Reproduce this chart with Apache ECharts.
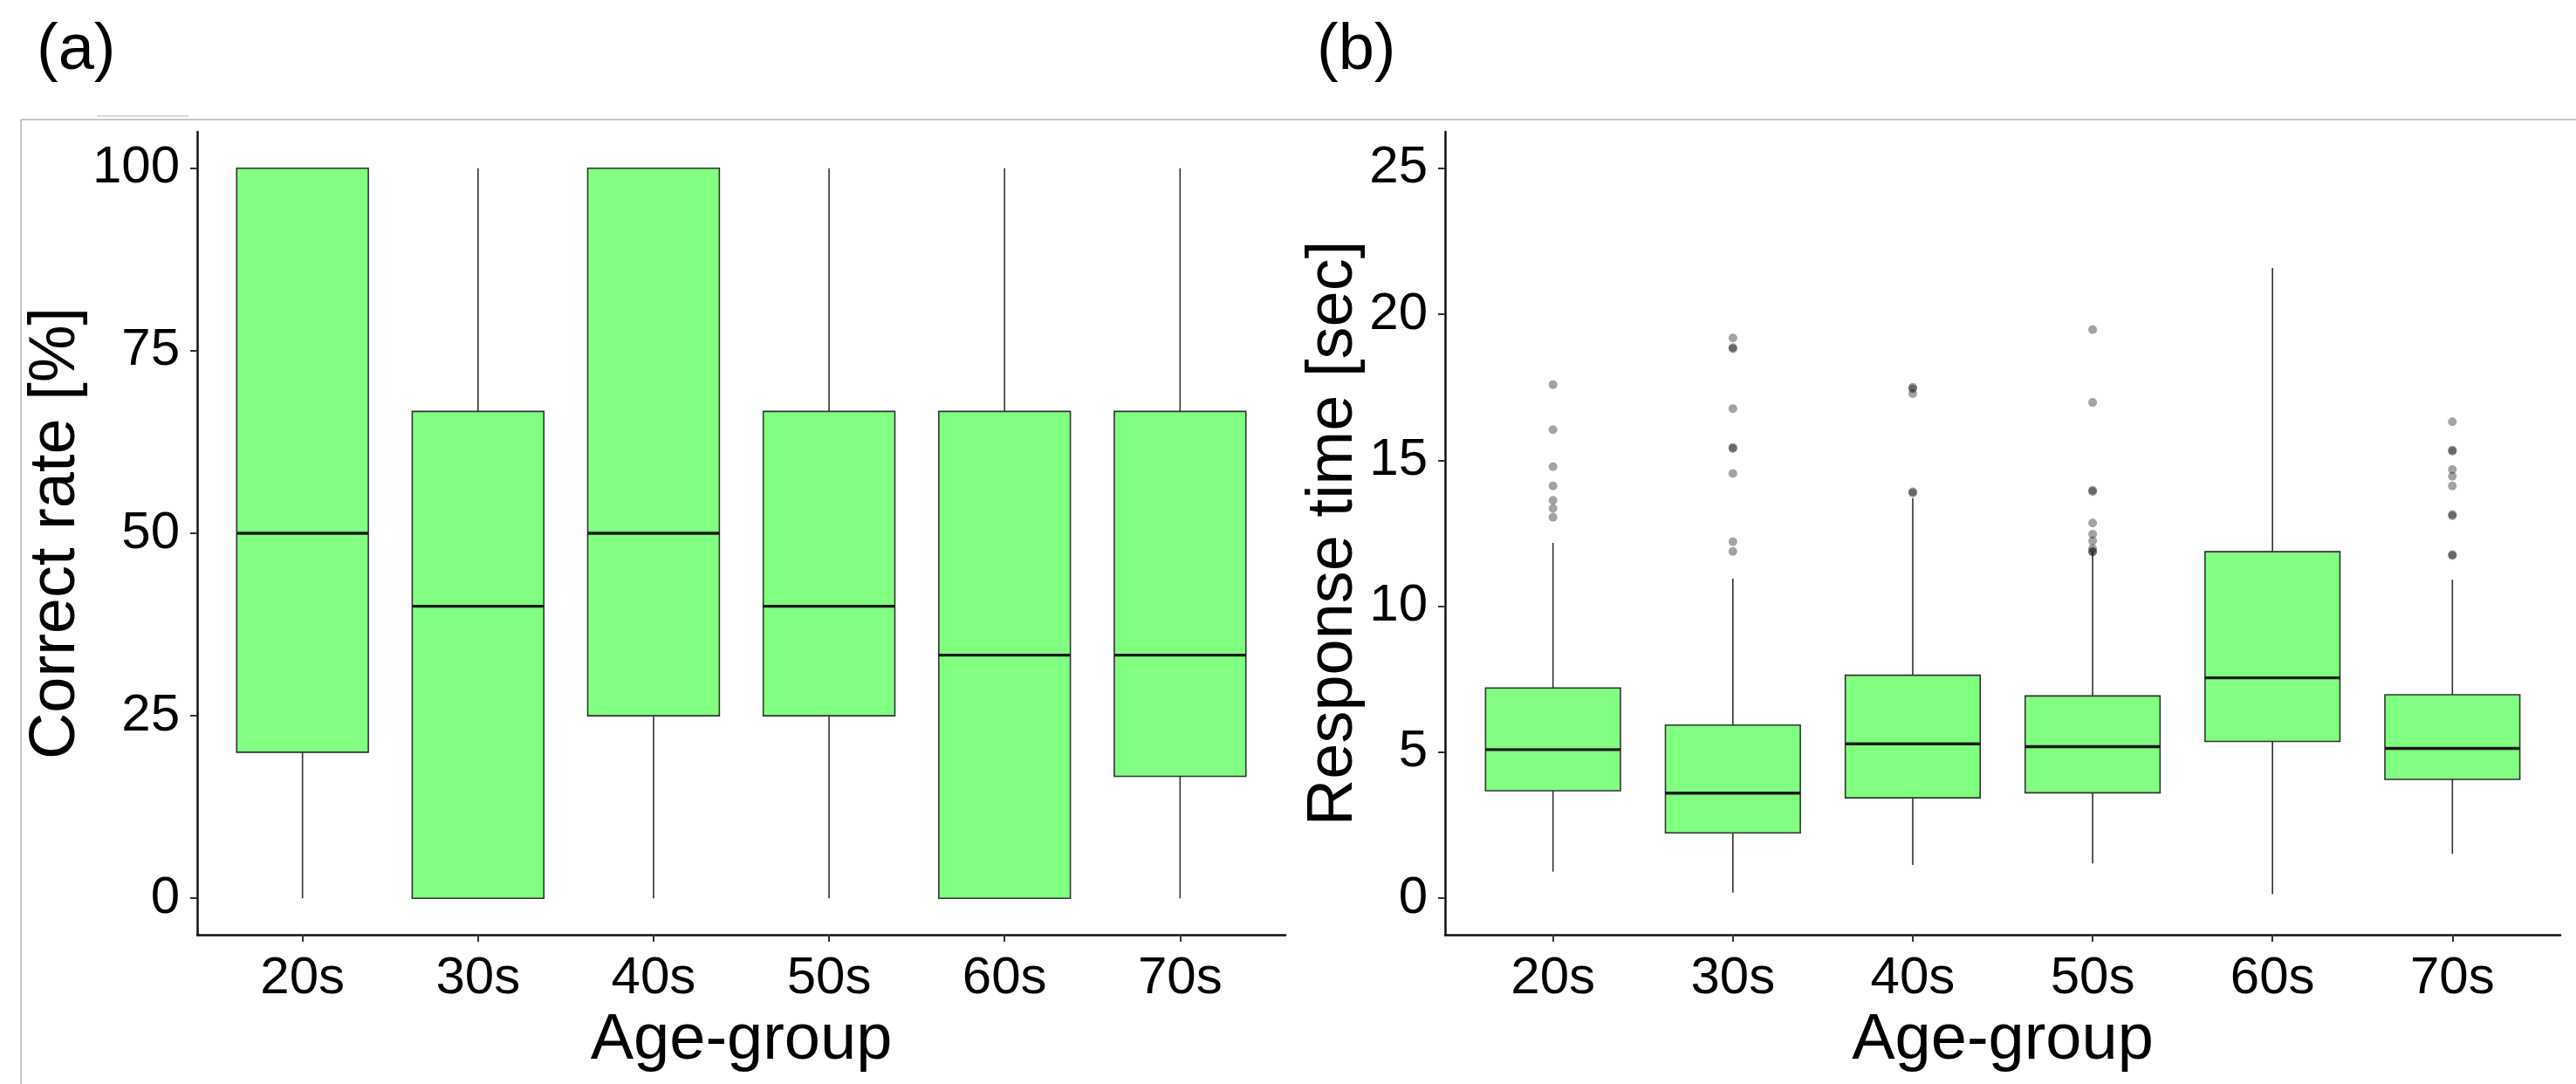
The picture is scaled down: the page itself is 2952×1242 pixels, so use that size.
<!DOCTYPE html>
<html><head><meta charset="utf-8">
<script src="https://cdn.jsdelivr.net/npm/echarts@6/dist/echarts.min.js"></script>
<style>html,body{margin:0;padding:0;background:#fff}#c{width:2952px;height:1242px}</style>
</head><body><div id="c"></div>
<script>
const categories = ['20s', '30s', '40s', '50s', '60s', '70s'];
const correctRateTicks = [0, 25, 50, 75, 100];
const responseTimeTicks = [0, 5, 10, 15, 20, 25];
// [min(whisker), Q1, median, Q3, max(whisker)]
const correctRateBoxes = [
  [0, 20, 50, 100, 100],
  [0, 0, 40, 66.7, 100],
  [0, 25, 50, 100, 100],
  [0, 25, 40, 66.7, 100],
  [0, 0, 33.3, 66.7, 100],
  [0, 16.7, 33.3, 66.7, 100]
];
const responseTimeBoxes = [
  [0.91, 3.68, 5.09, 7.20, 12.17],
  [0.19, 2.24, 3.60, 5.93, 10.95],
  [1.14, 3.44, 5.29, 7.64, 13.70],
  [1.19, 3.61, 5.19, 6.93, 11.87],
  [0.14, 5.37, 7.55, 11.87, 21.59],
  [1.52, 4.07, 5.13, 6.97, 10.91]
];
const responseTimeOutliers = [
  [17.59, 16.05, 14.78, 14.12, 13.63, 13.35, 13.05],
  [19.19, 18.86, 18.82, 16.77, 15.44, 15.40, 14.55, 12.21, 11.88],
  [17.50, 17.45, 17.28, 13.92, 13.88],
  [19.47, 16.98, 13.97, 13.93, 12.85, 12.47, 12.24, 11.98, 11.88, 11.86],
  [],
  [16.32, 15.35, 15.31, 14.68, 14.45, 14.12, 13.14, 13.10, 11.77, 11.74]
];

const FONT = 'Liberation Sans, Arial, Helvetica, sans-serif';
const catPos = categories.map((c, i) => i + 1);

function boxRender(params, api) {
  const x = api.value(0);
  const lo = api.coord([x, api.value(1)]);
  const q1 = api.coord([x, api.value(2)]);
  const med = api.coord([x, api.value(3)]);
  const q3 = api.coord([x, api.value(4)]);
  const hi = api.coord([x, api.value(5)]);
  const w = api.size([0.75, 0])[0];
  const h = w / 2;
  const ls = { stroke: '#333333', lineWidth: 1.6 };
  return {
    type: 'group',
    children: [
      { type: 'line', shape: { x1: lo[0], y1: lo[1], x2: q1[0], y2: q1[1] }, style: ls },
      { type: 'line', shape: { x1: q3[0], y1: q3[1], x2: hi[0], y2: hi[1] }, style: ls },
      { type: 'rect', shape: { x: q3[0] - h, y: q3[1], width: w, height: q1[1] - q3[1] },
        style: { fill: '#80FF80', stroke: '#333333', lineWidth: 1.6 } },
      { type: 'line', shape: { x1: med[0] - h, y1: med[1], x2: med[0] + h, y2: med[1] },
        style: { stroke: '#1a1a1a', lineWidth: 3.4 } }
    ]
  };
}

function xAxis(gi) {
  return {
    type: 'value', gridIndex: gi, min: 0.4, max: 6.6,
    splitLine: { show: false },
    axisLine: { show: true, onZero: false, lineStyle: { color: '#111', width: 2.5 } },
    axisTick: { show: true, customValues: catPos, length: 8, lineStyle: { color: '#333', width: 2 } },
    axisLabel: { customValues: catPos, formatter: v => categories[Math.round(v) - 1], fontSize: 60,
      color: '#000', margin: 20, fontFamily: FONT },
    name: 'Age-group', nameLocation: 'middle', nameGap: 66,
    nameTextStyle: { fontSize: 74, color: '#000', fontFamily: FONT }
  };
}
function yAxis(gi, min, max, ticks, name, gap) {
  return {
    type: 'value', gridIndex: gi, min: min, max: max,
    splitLine: { show: false },
    axisLine: { show: true, onZero: false, lineStyle: { color: '#111', width: 2.5 } },
    axisTick: { show: true, customValues: ticks, length: 8, lineStyle: { color: '#333', width: 2 } },
    axisLabel: { customValues: ticks, fontSize: 60, color: '#000', margin: 20, fontFamily: FONT },
    name: name, nameLocation: 'middle', nameGap: gap,
    nameTextStyle: { fontSize: 74, color: '#000', fontFamily: FONT }
  };
}

const outlierData = [];
responseTimeOutliers.forEach((arr, i) => arr.forEach(v => outlierData.push([i + 1, v])));

const chart = echarts.init(document.getElementById('c'));
chart.setOption({
  animation: false,
  backgroundColor: '#fff',
  grid: [
    { left: 226, top: 151, width: 1247, height: 920 },
    { left: 1656, top: 151, width: 1278, height: 920 }
  ],
  xAxis: [xAxis(0), xAxis(1)],
  yAxis: [
    yAxis(0, -5, 105, correctRateTicks, 'Correct rate [%]', 112),
    yAxis(1, -1.25, 26.25, responseTimeTicks, 'Response time [sec]', 88)
  ],
  series: [
    { type: 'custom', xAxisIndex: 0, yAxisIndex: 0, renderItem: boxRender,
      encode: { x: 0, y: [1, 2, 3, 4, 5] },
      data: correctRateBoxes.map((b, i) => [i + 1].concat(b)) },
    { type: 'custom', xAxisIndex: 1, yAxisIndex: 1, renderItem: boxRender,
      encode: { x: 0, y: [1, 2, 3, 4, 5] },
      data: responseTimeBoxes.map((b, i) => [i + 1].concat(b)) },
    { type: 'scatter', xAxisIndex: 1, yAxisIndex: 1, symbol: 'circle', symbolSize: 10,
      itemStyle: { color: 'rgba(0,0,0,0.45)' }, data: outlierData }
  ],
  graphic: [
    { type: 'line', shape: { x1: 24, y1: 137, x2: 2952, y2: 137 }, style: { stroke: '#c8c8c8', lineWidth: 2 } },
    { type: 'line', shape: { x1: 24, y1: 137, x2: 24, y2: 1242 }, style: { stroke: '#c8c8c8', lineWidth: 2 } },
    { type: 'line', shape: { x1: 111, y1: 133, x2: 216, y2: 133 }, style: { stroke: '#d8d8d8', lineWidth: 2 } },
    { type: 'text', x: 42, y: 22, style: { text: '(a)', font: '74px ' + FONT, fill: '#000', textVerticalAlign: 'top' } },
    { type: 'text', x: 1509, y: 22, style: { text: '(b)', font: '74px ' + FONT, fill: '#000', textVerticalAlign: 'top' } }
  ]
});
</script></body></html>
